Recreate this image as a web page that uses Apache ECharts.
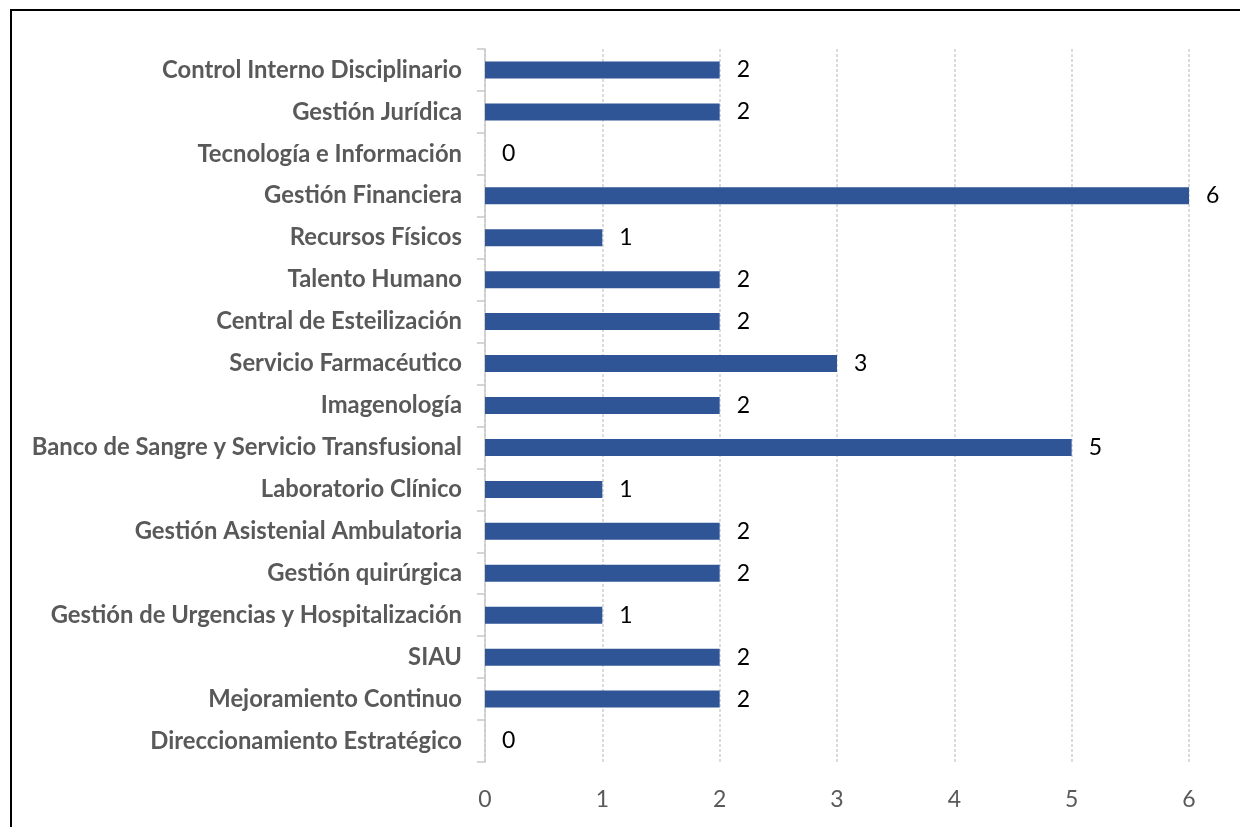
<!DOCTYPE html>
<html><head><meta charset="utf-8">
<script src="https://cdn.jsdelivr.net/npm/echarts@6/dist/echarts.min.js"></script>
<style>
html,body{margin:0;padding:0;background:#fff;}
#frame{position:absolute;left:10px;top:9px;width:1240px;height:830px;border:2px solid #000;box-sizing:border-box;}
#c{position:absolute;left:0;top:0;width:1240px;height:827px;}
</style></head>
<body>
<div id="frame"></div>
<div id="c"></div>
<script>
const categories = [
  "Direccionamiento Estratégico",
  "Mejoramiento Continuo",
  "SIAU",
  "Gestión de Urgencias y Hospitalización",
  "Gestión quirúrgica",
  "Gestión Asistenial Ambulatoria",
  "Laboratorio Clínico",
  "Banco de Sangre y Servicio Transfusional",
  "Imagenología",
  "Servicio Farmacéutico",
  "Central de Esteilización",
  "Talento Humano",
  "Recursos Físicos",
  "Gestión Financiera",
  "Tecnología e Información",
  "Gestión Jurídica",
  "Control Interno Disciplinario"
];
const values = [0, 2, 2, 1, 2, 2, 1, 5, 2, 3, 2, 2, 1, 6, 0, 2, 2];
const xTicks = [0, 1, 2, 3, 4, 5, 6];

const chart = echarts.init(document.getElementById('c'), null, {renderer: 'canvas'});
chart.setOption({
  animation: false,
  grid: {left: 485, top: 49, width: 704, height: 713, containLabel: false},
  xAxis: {
    type: 'value', min: xTicks[0], max: xTicks[xTicks.length - 1], interval: 1,
    axisLine: {show: false}, axisTick: {show: false},
    axisLabel: {color: '#595959', fontSize: 23, fontFamily: 'Lato, "Open Sans", sans-serif', margin: 26},
    splitLine: {show: true, lineStyle: {color: '#d0d0d0', type: [3, 2], width: 1.5}}
  },
  yAxis: {
    type: 'category', data: categories,
    axisLine: {show: true, lineStyle: {color: '#c8c8c8', width: 1.5}},
    axisTick: {show: true, length: 8, lineStyle: {color: '#c8c8c8', width: 1.5}},
    axisLabel: {color: '#595959', fontSize: 23.8, fontWeight: 'bold', fontFamily: 'Lato, "Open Sans", sans-serif', margin: 23},
    splitLine: {show: false}
  },
  series: [{
    type: 'bar', data: values, barWidth: 17,
    itemStyle: {color: '#2F5597'},
    label: {show: true, position: 'right', distance: 17, color: '#000', fontSize: 23, fontFamily: 'Lato, "Open Sans", sans-serif'}
  }]
});
</script>
</body></html>
